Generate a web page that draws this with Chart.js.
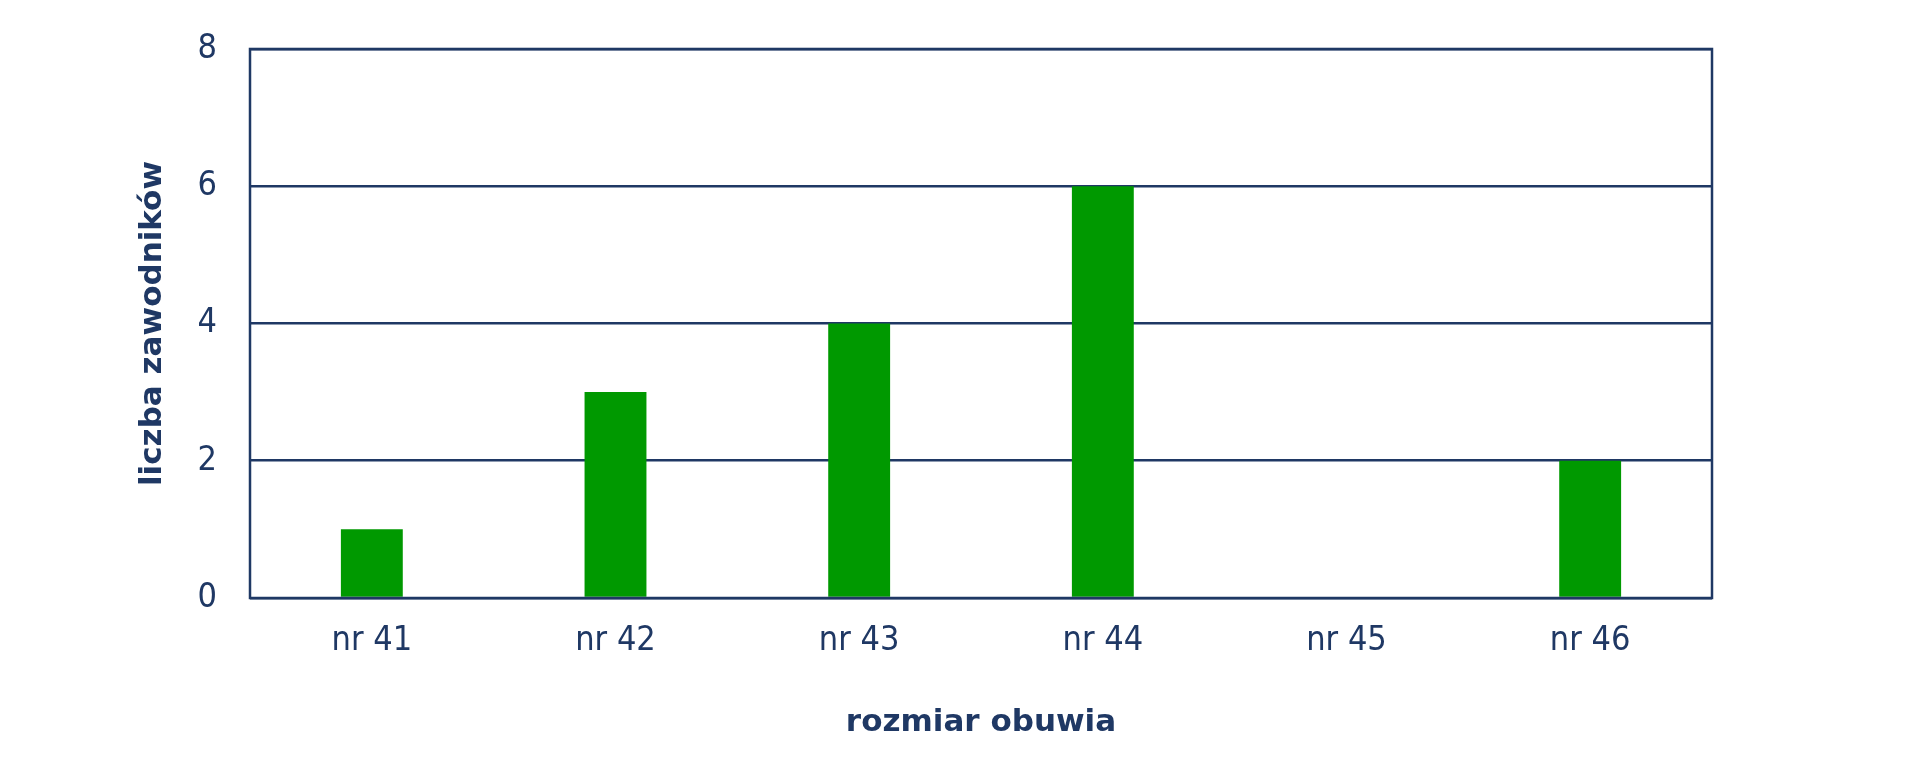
<!DOCTYPE html>
<html>
<head>
<meta charset="utf-8">
<script src="https://cdn.jsdelivr.net/npm/chart.js@4"></script>
<style>
html,body{margin:0;padding:0;background:#fff;}
canvas{display:block;}
</style>
</head>
<body>
<canvas id="c" width="1920" height="769"></canvas>
<script>
const categories = ["nr 41", "nr 42", "nr 43", "nr 44", "nr 45", "nr 46"];
const counts = [1, 3, 4, 6, 0, 2];
const yTicks = [0, 2, 4, 6, 8];
const xTitle = "rozmiar obuwia";
const yTitle = "liczba zawodników";

const NAVY = "#1f3864";
const GREEN = "#009900";
const FONT = "'DejaVu Sans Condensed', 'DejaVu Sans', sans-serif";
const BFONT = "'DejaVu Sans', sans-serif";

const boxPlugin = {
  id: 'box',
  afterDraw(chart) {
    const a = chart.chartArea, ctx = chart.ctx;
    ctx.save();
    ctx.strokeStyle = NAVY;
    ctx.lineWidth = 2.5;
    ctx.strokeRect(a.left, a.top, a.right - a.left, a.bottom - a.top);
    ctx.restore();
  }
};

new Chart(document.getElementById('c'), {
  type: 'bar',
  data: {
    labels: categories,
    datasets: [{
      data: counts,
      backgroundColor: GREEN,
      borderWidth: 0,
      categoryPercentage: 1,
      barPercentage: 0.254
    }]
  },
  options: {
    responsive: false,
    animation: false,
    devicePixelRatio: 1,
    layout: { padding: { left: 130, right: 208, top: 0, bottom: 10 } },
    plugins: { legend: { display: false }, tooltip: { enabled: false } },
    scales: {
      x: {
        grid: { display: false, drawTicks: false },
        border: { display: false },
        ticks: { color: NAVY, font: { family: FONT, size: 34 }, padding: 23 },
        title: { display: true, text: xTitle, color: NAVY, font: { family: BFONT, size: 31, weight: 'bold' }, padding: { top: 4, bottom: 17 } },
        afterFit(axis) { axis.height = 769 - 598 - 10; }
      },
      y: {
        min: 0, max: 8,
        afterBuildTicks(axis) { axis.ticks = yTicks.map(v => ({ value: v })); },
        grid: { color: NAVY, lineWidth: 2.5, drawTicks: false },
        border: { display: false },
        ticks: { color: NAVY, font: { family: FONT, size: 34, lineHeight: 0.94 }, padding: 33 },
        title: { display: true, text: yTitle, color: NAVY, font: { family: BFONT, size: 31, weight: 'bold' }, padding: { top: 4, bottom: 4 } },
        afterFit(axis) { axis.width = 250 - 130; }
      }
    }
  },
  plugins: [boxPlugin]
});
</script>
</body>
</html>
